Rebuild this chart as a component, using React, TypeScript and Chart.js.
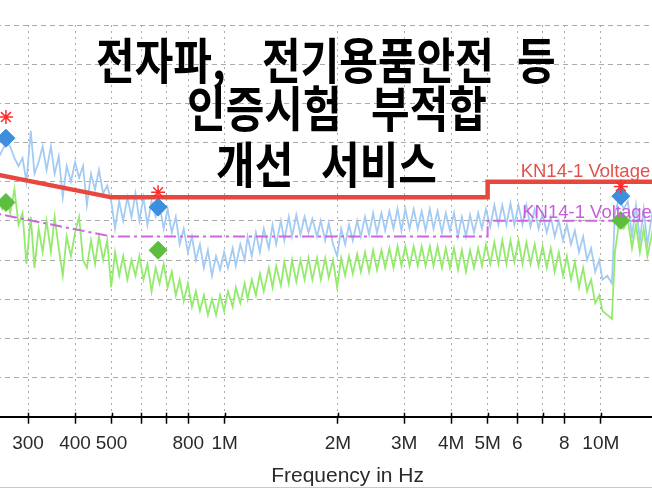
import React, { useEffect, useRef } from "react";
import { Chart, registerables } from "chart.js";

Chart.register(...registerables);

// Frequency sweep points (MHz)
const freqMHz = [
  0.250, 0.256, 0.263, 0.269, 0.276, 0.283, 0.290, 0.297, 0.305, 0.312,
  0.320, 0.328, 0.336, 0.345, 0.353, 0.362, 0.371, 0.380, 0.390, 0.400,
  0.410, 0.420, 0.430, 0.441, 0.452, 0.463, 0.475, 0.487, 0.499, 0.511,
  0.524, 0.537, 0.551, 0.565, 0.579, 0.593, 0.608, 0.623, 0.639, 0.655,
  0.671, 0.688, 0.705, 0.723, 0.741, 0.759, 0.778, 0.798, 0.818, 0.838,
  0.859, 0.880, 0.902, 0.925, 0.948, 0.972, 0.996, 1.02, 1.05, 1.07,
  1.10, 1.13, 1.15, 1.18, 1.21, 1.24, 1.27, 1.31, 1.34, 1.37,
  1.41, 1.44, 1.48, 1.51, 1.55, 1.59, 1.63, 1.67, 1.71, 1.76,
  1.80, 1.85, 1.89, 1.94, 1.99, 2.04, 2.09, 2.14, 2.19, 2.25,
  2.30, 2.36, 2.42, 2.48, 2.54, 2.61, 2.67, 2.74, 2.81, 2.88,
  2.95, 3.02, 3.10, 3.18, 3.26, 3.34, 3.42, 3.51, 3.59, 3.68,
  3.78, 3.87, 3.97, 4.07, 4.17, 4.27, 4.38, 4.49, 4.60, 4.72,
  4.83, 4.95, 5.08, 5.21, 5.34, 5.47, 5.61, 5.75, 5.89, 6.04,
  6.19, 6.34, 6.50, 6.67, 6.83, 7.00, 7.18, 7.36, 7.54, 7.73,
  7.93, 8.12, 8.33, 8.53, 8.75, 8.97, 9.19, 9.42, 9.66, 9.90,
  10.1, 10.4, 10.7, 10.9, 11.2, 11.5, 11.8, 12.1, 12.4, 12.7,
  13.0, 13.3, 13.7, 14.0,
];

// Peak trace (dBµV)
const peakDb = [
  66, 68, 70, 69, 66, 64, 66, 60, 73, 62,
  65, 69, 63, 69, 62, 66.5, 56, 64, 60, 65,
  61, 64, 54, 62, 58, 63, 57, 59, 55, 48,
  55, 50, 56, 51, 57, 50, 56, 49, 55, 51,
  54, 48, 53, 47, 51, 44, 48, 42, 46, 40,
  44, 38, 42.5, 36, 41, 37.5, 42, 38, 43, 38.5,
  44, 40, 46, 41, 47, 42, 48, 43, 49, 44,
  50, 45, 51, 46, 51.5, 46.5, 51, 47, 50.5, 46,
  50, 45, 49.5, 44, 41, 48, 44, 49, 45, 50,
  46, 51, 46.5, 52, 47, 52, 47.5, 52.5, 48, 53,
  47.5, 53, 48, 53, 48, 52.5, 47.5, 53, 48, 52.5,
  47, 52, 47.5, 52, 46, 51, 46, 51.5, 47, 52,
  48, 53, 48.5, 54, 49, 54, 49, 54.5, 49, 54,
  49, 54, 48.5, 53, 48, 52, 47, 51, 46, 50,
  45, 49, 44, 47.5, 42, 46, 40, 43, 37, 40,
  35, 36, 34, 52, 56, 53, 55, 46, 54, 45,
  53, 44, 52, 45,
];

// Average trace (dBµV)
const avgDb = [
  55, 53, 56, 52, 58, 49, 52, 39, 51, 38,
  48, 42, 50, 42, 51, 43, 36, 46, 41, 47,
  51, 40, 38, 45, 39, 46, 40, 45, 33, 42,
  36, 41, 35, 40, 36, 41, 35, 39, 32, 38,
  34, 39, 33, 37, 31, 35, 29.5, 34, 28, 32,
  27, 31, 26, 30, 26, 31, 27, 32, 28, 33,
  29, 34, 30, 35, 31, 36.5, 32, 38, 33, 38.5,
  33.5, 39.5, 34, 40, 34.5, 40, 35, 40.5, 35, 40.5,
  35, 40.5, 35.5, 40, 33, 40.5, 36, 41, 36.5, 41.5,
  37, 42, 37, 42.5, 37.5, 42.5, 38, 43, 38, 43.5,
  38.5, 43.5, 38.5, 43.5, 38.5, 43.5, 38.5, 43.5, 38.5, 43.5,
  38, 43, 38, 43, 37.5, 42.5, 37, 42.5, 38, 43,
  38.5, 44, 39, 44.5, 39, 45, 39, 45, 39.5, 45,
  39, 44.5, 39, 44, 38.5, 43.5, 38, 43, 37, 42,
  36, 41, 35, 39.5, 33, 38, 32, 35, 29, 31,
  27, 26, 25, 42, 50, 48, 50, 43, 49, 42,
  48, 41, 47, 41,
];

// Limit lines
const qpLimitF = [0.15, 0.5, 5, 5, 30];
const qpLimitDb = [66, 56, 56, 60, 60];
const avLimitF = [0.15, 0.5, 5, 5, 30];
const avLimitDb = [56, 46, 46, 50, 50];

// Final measurement markers
const markF = [0.262, 0.665, 11.3];
const markStarDb = [76.5, 57.3, 58.8];
const markPeakDb = [71.1, 53.5, 56.3];
const markAvgDb = [54.7, 42.5, 50.1];

// Axis
const tickValues = [0.15, 0.2, 0.3, 0.4, 0.5, 0.6, 0.7, 0.8, 1, 2, 3, 4, 5, 6, 7, 8, 10, 20, 30];
const tickLabels = ["150", "200", "300", "400", "500", "", "", "800", "1M", "2M", "3M", "4M", "5M", "6", "", "8", "10M", "20M", "30M"];
const xTitle = "Frequency in Hz";
const limitLabels = ["KN14-1 Voltage QP", "KN14-1 Voltage AV"];

// Overlay text
const overlayLine1 = ["전자파,", "전기용품안전", "등"];
const overlayLine2 = ["인증시험", "부적합"];
const overlayLine3 = ["개선", "서비스"];

const toXY = (xs: number[], ys: number[]) => xs.map((x, i) => ({ x, y: ys[i] }));

export default function App() {
  const ref = useRef<HTMLCanvasElement>(null);

  useEffect(() => {
    document.body.style.margin = "0";
    const canvas = ref.current!;

    const limitLabelPlugin = {
      id: "limitLabels",
      afterDatasetsDraw(chart: any) {
        const { ctx, scales } = chart;
        const x = scales.x;
        const y = scales.y;
        ctx.save();
        ctx.font = "18.5px Arial, 'Liberation Sans', sans-serif";
        ctx.textBaseline = "alphabetic";
        ctx.textAlign = "left";
        ctx.fillStyle = "#e2524c";
        ctx.fillText(limitLabels[0], x.getPixelForValue(6.12), y.getPixelForValue(61.1));
        ctx.fillStyle = "#c85ddc";
        ctx.fillText(limitLabels[1], x.getPixelForValue(6.18), y.getPixelForValue(50.6));
        ctx.restore();
      },
    };

    const innerTickPlugin = {
      id: "innerTicks",
      afterDraw(chart: any) {
        const { ctx, chartArea, scales } = chart;
        const x = scales.x;
        ctx.save();
        ctx.strokeStyle = "#000";
        ctx.lineWidth = 1.5;
        ctx.beginPath();
        tickValues.forEach((v) => {
          const px = Math.round(x.getPixelForValue(v)) + 0.5;
          ctx.moveTo(px, chartArea.bottom - 4);
          ctx.lineTo(px, chartArea.bottom);
        });
        ctx.stroke();
        ctx.restore();
      },
    };

    const chart = new Chart(canvas, {
      type: "line",
      data: {
        datasets: [
          {
            label: "QP result",
            data: toXY(markF, markStarDb),
            showLine: false,
            pointStyle: "star",
            pointRadius: 7,
            borderColor: "#ff2a2a",
            backgroundColor: "#ff2a2a",
            borderWidth: 1.5,
            order: 0,
          },
          {
            label: "Peak marker",
            data: toXY(markF, markPeakDb),
            showLine: false,
            pointStyle: "rectRot",
            pointRadius: 9,
            backgroundColor: "#3b8fdd",
            borderColor: "#3b8fdd",
            borderWidth: 1,
            order: 1,
          },
          {
            label: "Average marker",
            data: toXY(markF, markAvgDb),
            showLine: false,
            pointStyle: "rectRot",
            pointRadius: 9,
            backgroundColor: "#5cbd3f",
            borderColor: "#5cbd3f",
            borderWidth: 1,
            order: 1,
          },
          {
            label: "QP limit",
            data: toXY(qpLimitF, qpLimitDb),
            borderColor: "#e8473e",
            borderWidth: 4.5,
            pointRadius: 0,
            fill: false,
            order: 2,
          },
          {
            label: "AV limit",
            data: toXY(avLimitF, avLimitDb),
            borderColor: "#cf63e0",
            borderWidth: 2,
            borderDash: [12, 4, 3, 4],
            pointRadius: 0,
            fill: false,
            order: 2,
          },
          {
            label: "Average",
            data: toXY(freqMHz, avgDb),
            borderColor: "#93ea6c",
            borderWidth: 1.8,
            pointRadius: 0,
            fill: false,
            order: 3,
          },
          {
            label: "Peak",
            data: toXY(freqMHz, peakDb),
            borderColor: "#a3cbf3",
            borderWidth: 1.8,
            pointRadius: 0,
            fill: false,
            order: 4,
          },
        ],
      },
      options: {
        animation: false,
        responsive: false,
        layout: { padding: { left: 20.6, right: 49.7, top: 25, bottom: 0 } },
        plugins: {
          legend: { display: false },
          tooltip: { enabled: false },
          title: { display: false },
        },
        scales: {
          x: {
            type: "logarithmic",
            min: 0.15,
            max: 30,
            bounds: "data",
            afterBuildTicks: (s: any) => {
              s.ticks = tickValues.map((v) => ({ value: v }));
            },
            ticks: {
              autoSkip: false,
              maxRotation: 0,
              minRotation: 0,
              padding: 9,
              color: "#2a2a2a",
              font: { family: "Arial, 'Liberation Sans', sans-serif", size: 19 },
              callback: (_v: any, i: number) => tickLabels[i],
            },
            grid: {
              color: "#ababab",
              lineWidth: 1,
              tickLength: 7,
              tickColor: "#000",
              tickWidth: 1.5,
              drawTicks: true,
            },
            border: { display: true, color: "#000", width: 2, dash: [2, 4] },
            title: {
              display: true,
              text: xTitle,
              color: "#2a2a2a",
              font: { family: "Arial, 'Liberation Sans', sans-serif", size: 21, lineHeight: 1.1 },
              padding: { top: 0, bottom: 0.4 },
            },
          },
          y: {
            type: "linear",
            min: 0,
            max: 100,
            ticks: { display: false, stepSize: 10 },
            grid: { color: "#ababab", lineWidth: 1, drawTicks: false },
            border: { display: false, dash: [5, 4] },
          },
        },
      },
      plugins: [limitLabelPlugin, innerTickPlugin],
    } as any);

    return () => chart.destroy();
  }, []);

  const textStyle = (left: number, top: number): React.CSSProperties => ({
    position: "absolute",
    left,
    top,
    fontFamily: "'Noto Sans CJK KR', sans-serif",
    fontWeight: 700,
    fontSize: 42,
    lineHeight: "42px",
    whiteSpace: "pre",
    color: "#000",
    transform: "scaleY(1.16)",
    transformOrigin: "top left",
  });

  return (
    <div
      style={{
        position: "fixed",
        left: 0,
        top: 0,
        width: 652,
        height: 488,
        overflow: "hidden",
        background: "#fff",
      }}
    >
      <canvas
        ref={ref}
        width={940}
        height={488}
        style={{ position: "absolute", left: -110, top: 0, width: 940, height: 488 }}
      />
      <div style={textStyle(96, 34)}>{overlayLine1[0]}</div>
      <div style={textStyle(262, 34)}>{overlayLine1[1]}</div>
      <div style={textStyle(517, 34)}>{overlayLine1[2]}</div>
      <div style={textStyle(187, 82)}>{overlayLine2[0]}</div>
      <div style={textStyle(371, 82)}>{overlayLine2[1]}</div>
      <div style={textStyle(216, 138)}>{overlayLine3[0]}</div>
      <div style={textStyle(321, 138)}>{overlayLine3[1]}</div>
      <div
        style={{ position: "absolute", left: 0, top: 487, width: 652, height: 1, background: "#c8c8c8" }}
      />
    </div>
  );
}
